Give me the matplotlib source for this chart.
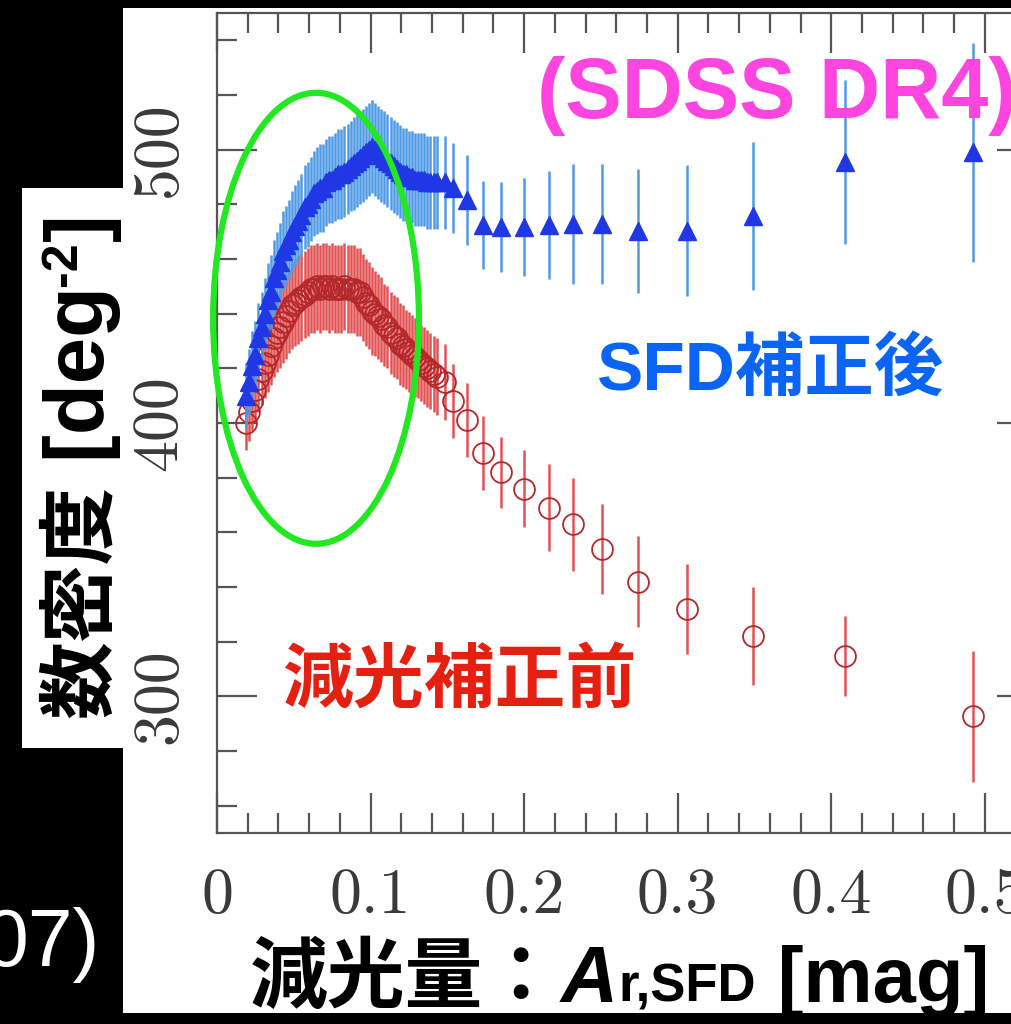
import matplotlib
matplotlib.use("Agg")
import matplotlib.pyplot as plt
from matplotlib.patches import Ellipse, Rectangle
from matplotlib.ticker import MultipleLocator

# extinction bins A_r,SFD [mag] (shared by both samples)
a_r = [0.019, 0.021, 0.023, 0.025, 0.027, 0.029, 0.031, 0.033, 0.035, 0.037,
       0.039, 0.041, 0.043, 0.045, 0.047, 0.049, 0.051, 0.053, 0.055, 0.057,
       0.059, 0.061, 0.063, 0.065, 0.067, 0.069, 0.071, 0.073, 0.075, 0.077,
       0.079, 0.081, 0.083, 0.085, 0.087, 0.089, 0.091, 0.093, 0.095, 0.097,
       0.099, 0.101, 0.103, 0.105, 0.107, 0.109, 0.111, 0.113, 0.115, 0.117,
       0.119, 0.121, 0.123, 0.125, 0.127, 0.129, 0.131, 0.133, 0.135, 0.137,
       0.139, 0.141, 0.143,
       0.1485, 0.154, 0.163, 0.173, 0.185, 0.200, 0.216, 0.232, 0.251, 0.274,
       0.306, 0.349, 0.409, 0.4925]

# surface density after SFD correction [deg^-2]
n_sfd = [410, 415, 421, 425, 431, 435, 440, 445, 448, 453,
         456, 459, 463, 465, 467, 470, 472, 474, 476, 479,
         480, 482, 484, 485, 486, 486, 488, 489, 489, 490,
         491, 491, 492, 493, 494, 495, 496, 497, 498, 499,
         500, 501, 500, 499, 498, 497, 496, 495, 494, 493,
         492, 491, 491, 490, 490, 489, 489, 489, 489, 488,
         488, 488, 488,
         488, 486, 481.7, 472.5, 471.7, 471.7, 472.5, 472.8, 472.8, 470.3,
         470.3, 475.8, 495.6, 499]
err_sfd = [12, 12, 12.5, 12.5, 13, 13, 13, 13.5, 13.5, 14,
           14, 14, 14.5, 14.5, 14.5, 15, 15, 15, 15, 15.5,
           15.5, 15.5, 15.5, 16, 16, 16, 16, 16, 16, 16,
           16.5, 16.5, 16.5, 16.5, 16.5, 17, 17, 17, 17, 17,
           17, 17, 17, 17, 17, 17, 17, 17, 17, 17,
           17, 17, 17, 17, 17, 17, 17, 17, 17, 17,
           17, 17, 17,
           17, 16.5, 16.5, 16, 16.5, 17.8, 19.8, 22, 22, 22.6,
           24, 27, 30, 40]

# surface density before extinction correction [deg^-2]
n_raw = [400, 404, 408, 412, 416, 419, 422, 425, 428, 431,
         433, 435, 437, 439, 441, 443, 444, 445, 446, 447,
         448, 449, 449, 450, 449, 450, 450, 449, 450, 449,
         449, 449, 450, 449, 449, 449, 448, 448, 446, 444,
         443, 441, 440, 439, 438, 436, 435, 433, 432, 431,
         429, 428, 427, 426, 425, 424, 423, 422, 421, 420,
         419, 418, 417,
         415, 408, 401, 389, 382, 376, 369, 363, 354, 342,
         332, 322, 314.7, 292.7]
err_raw = [10, 10.5, 11, 11.5, 12, 12.5, 13, 13.5, 14, 14,
           14.5, 15, 15, 15.5, 15.5, 16, 16, 16, 16, 16,
           16, 16, 16, 16, 16, 16, 16, 16, 16, 16,
           16, 16, 16, 16, 16, 16, 16, 16, 16, 16,
           16, 16, 15.5, 15.5, 15.5, 15, 15, 15, 15, 15,
           15, 15, 14.5, 14.5, 14.5, 14.5, 14, 14, 14, 14,
           14, 14, 14,
           14, 13.5, 13.5, 13.4, 13, 14, 16, 17, 16.5, 16.5,
           16.5, 18, 14.7, 24]

x_ticks = [0, 0.1, 0.2, 0.3, 0.4, 0.5]
x_ticklabels = ["0", "0.1", "0.2", "0.3", "0.4", "0.5"]
y_ticks = [300, 400, 500]
y_ticklabels = ["300", "400", "500"]

W, H = 1012, 1024
CJK = ["Noto Sans CJK JP", "DejaVu Sans"]
SANS = ["Liberation Sans", "Noto Sans CJK JP", "DejaVu Sans"]


def fx(x):
    return x / W


def fy(y):
    return 1 - y / H


fig = plt.figure(figsize=(W / 100, H / 100), dpi=100, facecolor="black")

# white slide panels (behind the axes)
fig.patches.append(Rectangle((fx(123), fy(1013)), (W - 123) / W, (1013 - 8) / H,
                             transform=fig.transFigure, facecolor="white",
                             edgecolor="none", zorder=-2))
fig.patches.append(Rectangle((fx(22), fy(748)), (123 - 22) / W, (748 - 188) / H,
                             transform=fig.transFigure, facecolor="white",
                             edgecolor="none", zorder=-2))

ax = fig.add_axes([fx(217), fy(833), 820 / W, 820 / H])
ax.set_facecolor("white")
ax.set_xlim(0, 0.534)
ax.set_ylim(250, 550)

ax.errorbar(a_r, n_raw, yerr=err_raw, fmt="o", ms=15, mfc="none", mec="#b3282a",
            mew=1.3, ecolor="#e35252", elinewidth=1.8, capsize=0, zorder=2)
ax.errorbar(a_r, n_sfd, yerr=err_sfd, fmt="^", ms=13, color="#2037e6", mec="#2037e6",
            ecolor="#4f9ae6", elinewidth=1.8, capsize=0, zorder=3)

ax.add_patch(Ellipse((0.0645, 438.3), 0.134, 165, fill=False, edgecolor="#22e822",
                     linewidth=4.5, zorder=5, clip_on=False))

# ticks on all sides, pointing inward
ax.xaxis.set_minor_locator(MultipleLocator(0.02))
ax.yaxis.set_minor_locator(MultipleLocator(20))
ax.set_xticks(x_ticks)
ax.set_xticklabels(x_ticklabels, fontfamily="cmr10", fontsize=46, color="#3a3a3a")
ax.set_yticks(y_ticks)
ax.set_yticklabels(y_ticklabels, fontfamily="cmr10", fontsize=46, color="#3a3a3a",
                   rotation=90, va="center")
ax.tick_params(which="both", direction="in", top=True, right=True,
               color="#555555", width=1.6)
ax.tick_params(which="major", length=29)
ax.tick_params(which="minor", length=14.5)
ax.tick_params(axis="x", pad=25)
ax.tick_params(axis="y", pad=20)
for sp in ax.spines.values():
    sp.set_color("#555555")
    sp.set_linewidth(1.6)

# annotations
fig.text(fx(537), fy(118), "(SDSS DR4)", fontsize=61, fontweight="bold",
         family=SANS, color="#ff45e0", ha="left", va="baseline")
fig.text(fx(597), fy(390), "SFD補正後", fontsize=50, fontweight="bold",
         family=SANS, color="#0a64f5", ha="left", va="baseline")
fig.text(fx(283), fy(702), "減光補正前", fontsize=51, fontweight="bold",
         family=CJK, color="#e62010", ha="left", va="baseline")
fig.text(fx(100), fy(966), "07)", fontsize=58, family=SANS, color="white",
         ha="right", va="baseline")

renderer = fig.canvas.get_renderer()


def run_text(pieces, x0, y0, vertical=False):
    x, y = x0, y0
    for s, kw, shift in pieces:
        if vertical:
            t = fig.text(fx(x - shift), fy(y), s, rotation=90, rotation_mode="anchor",
                         ha="left", va="baseline", **kw)
            y -= t.get_window_extent(renderer).height
        else:
            t = fig.text(fx(x), fy(y - shift), s, ha="left", va="baseline", **kw)
            x += t.get_window_extent(renderer).width


bold_cjk = dict(family=CJK, fontweight="bold", fontsize=56, color="black")
bold_lat = dict(family=SANS, fontweight="bold", fontsize=56, color="black")

run_text([("減光量：", bold_cjk, 0),
          ("A", dict(bold_lat, fontstyle="italic", fontsize=57), 0),
          ("r,SFD", dict(bold_lat, fontsize=38), 0),
          (" [mag]", bold_lat, 0)], 250, 1002)

run_text([("数密度", bold_cjk, 0),
          (" [deg", dict(bold_lat, fontsize=60), 0),
          ("-2", dict(bold_lat, fontsize=36), 28),
          ("]", dict(bold_lat, fontsize=60), 0)], 104, 718, vertical=True)

fig.savefig("out.png", dpi=100, facecolor="black")
